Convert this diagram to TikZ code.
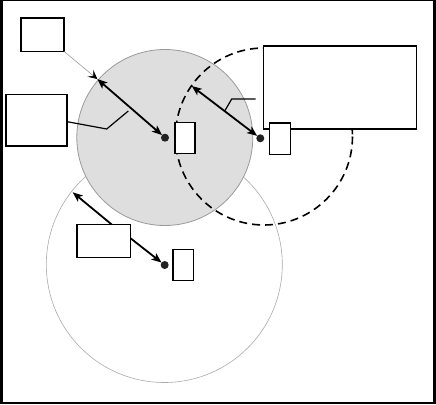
\documentclass[tikz,border=0pt]{standalone}
\usetikzlibrary{arrows.meta}
\definecolor{discfill}{HTML}{DEDEDE}
\definecolor{discedge}{HTML}{9A9A9A}
\definecolor{ringedge}{HTML}{AAAAAA}
\definecolor{dotcol}{HTML}{222222}
\tikzset{
  box/.style={draw=black, fill=white, line width=1.6pt, inner sep=0pt, outer sep=0pt},
  spot/.style={circle, fill=dotcol, minimum size=8pt, inner sep=0pt, outer sep=0pt},
  thickarrow/.style={line width=1.8pt, {Stealth[length=10pt,width=8pt,inset=2.5pt]}-{Stealth[length=10pt,width=8pt,inset=2.5pt]}},
  onearrow/.style={line width=1.8pt, -{Stealth[length=10pt,width=8pt,inset=2.5pt]}},
  leader/.style={line width=1.2pt, black},
}
\begin{document}
\begin{tikzpicture}[x=1pt,y=-1pt]
\useasboundingbox (0,0) rectangle (436,404);
% frame
\fill[black] (0,0) rectangle (2.6,404);
\fill[black] (0,401.8) rectangle (436,404);
\fill[black] (432.8,0) rectangle (436,404);
\fill[black] (0,0) rectangle (436,1);
% circles
\draw[ringedge, line width=0.6pt] (164.3,264.5) circle (118);
\draw[discedge, fill=discfill, line width=0.8pt] (164.8,137.5) circle (88);
\draw[black, line width=1.6pt, dash pattern=on 8pt off 5pt] (264,136.5) circle (88.5);
% dots
\node[spot] (d1) at (165,137.7) {};
\node[spot] (d2) at (260.3,138.3) {};
\node[spot] (d3) at (164.7,265) {};
% edge points
\coordinate (p1) at (97.3,79);
\coordinate (p2) at (191.7,86);
\coordinate (p3) at (72.7,192.3);
\coordinate (k1) at (106.7,129);
\coordinate (k2) at (128.3,111);
\coordinate (m1) at (255.5,99);
\coordinate (m2) at (231.7,99);
\coordinate (m3) at (225,110.5);
% boxes
\node[box, minimum width=43pt, minimum height=33.5pt] (A) at (42.7,34.8) {};
\node[box, minimum width=61pt, minimum height=51.5pt] (B) at (36.7,120.2) {};
\node[box, minimum width=152.8pt, minimum height=83.5pt] (D) at (339.9,87.5) {};
\node[box, minimum width=53.5pt, minimum height=33pt] (F) at (103.8,241) {};
% connectors
\draw[thickarrow] (p1) -- (d1);
\draw[thickarrow] (p2) -- (d2);
\draw[discedge, line width=0.6pt, -{Stealth[black,length=9pt,width=9pt,inset=4pt]}] (A.south east) -- (p1);
\draw[leader] (B.east |- 0,121.7) -- (k1) -- (k2);
\draw[leader] (m1) -- (m2) -- (m3);
\draw[onearrow] (F.north -| 111.7,0) -- (p3);
\draw[onearrow] (F.east |- 0,238.3) -- (d3);
% small boxes on top
\node[box, minimum width=20pt, minimum height=30.8pt] (C) at (185.2,137.9) {};
\node[box, minimum width=20.8pt, minimum height=31.2pt] (E) at (279.9,138.7) {};
\node[box, minimum width=20.5pt, minimum height=30.8pt] (G) at (183.3,264.9) {};
\end{tikzpicture}
\end{document}
